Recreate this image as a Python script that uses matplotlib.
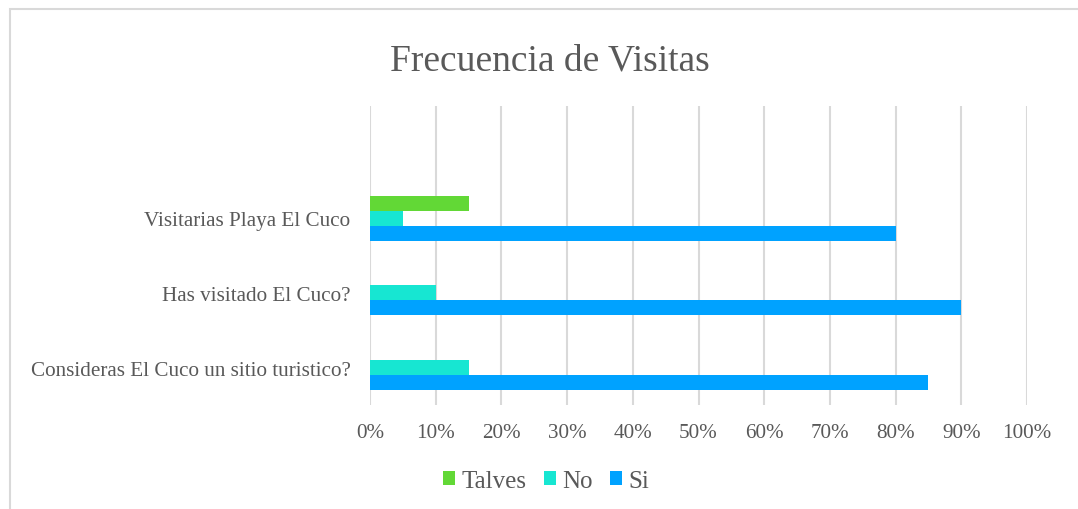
import matplotlib
matplotlib.use('Agg')
import numpy as np
import matplotlib.pyplot as plt
from matplotlib.patches import Rectangle

categories = ['Consideras El Cuco un sitio turistico?', 'Has visitado El Cuco?',
              'Visitarias Playa El Cuco', '']
si = [85, 90, 80, 0]
no = [15, 10, 5, 0]
talves = [0, 0, 15, 0]
xticks = [0, 10, 20, 30, 40, 50, 60, 70, 80, 90, 100]

grey = '#595959'
plt.rcParams['font.family'] = ['Liberation Serif', 'DejaVu Serif']

fig = plt.figure(figsize=(10.78, 5.10), dpi=100)
ax = fig.add_axes([370 / 1078, 104 / 510, 657 / 1078, 299 / 510])

# chart frame like excel
fig.patches.append(Rectangle((10 / 1078, -0.1), 1.2, (500 / 510) + 0.1, transform=fig.transFigure,
                             fill=False, edgecolor='#d9d9d9', lw=1.5))

y = np.arange(len(categories))
h = 0.2
ax.barh(y - h, si, height=h, color='#00A2FF', label='Si', zorder=3)
ax.barh(y, no, height=h, color='#17E6D2', label='No', zorder=3)
ax.barh(y + h, talves, height=h, color='#62D836', label='Talves', zorder=3)

ax.set_xlim(0, 100)
ax.set_ylim(-0.5, len(categories) - 0.5)
ax.set_xticks(xticks)
ax.set_xticklabels([f'{v}%' for v in xticks])
ax.set_yticks(y[:3])
ax.set_yticklabels(categories[:3])
ax.xaxis.grid(True, color='#d9d9d9', lw=1.5, zorder=0)
ax.tick_params(axis='both', length=0, labelsize=15.2, colors=grey)
ax.tick_params(axis='y', pad=14)
ax.tick_params(axis='x', pad=13)
for s in ax.spines.values():
    s.set_visible(False)

fig.text(0.51, 0.88, 'Frecuencia de Visitas', ha='center', va='center', fontsize=27, color=grey)

handles, labels = ax.get_legend_handles_labels()
fig.legend(handles[::-1], labels[::-1], loc='center', bbox_to_anchor=(0.507, 0.055), ncol=3,
           frameon=False, fontsize=18, labelcolor=grey, handlelength=0.48, handleheight=0.48,
           handletextpad=0.25, columnspacing=0.7)

fig.savefig('out.png', dpi=100)
